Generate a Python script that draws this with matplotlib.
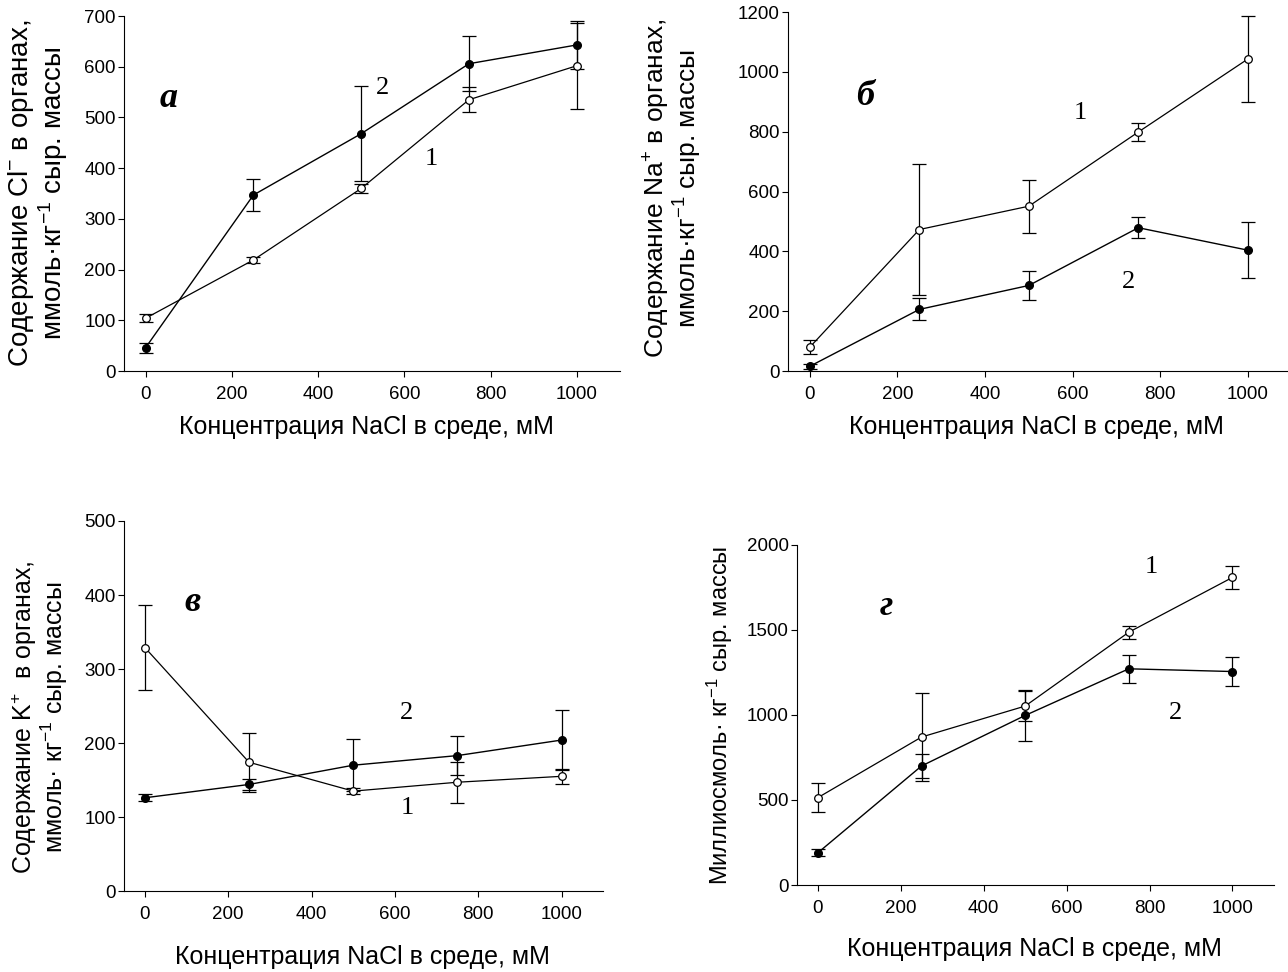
import matplotlib
matplotlib.use("Agg")
import matplotlib.pyplot as plt

plt.rcParams["font.family"] = ["Liberation Sans", "DejaVu Sans"]
plt.rcParams["mathtext.fontset"] = "custom"
plt.rcParams["mathtext.rm"] = "Liberation Sans"
plt.rcParams["mathtext.it"] = "Liberation Sans:italic"
plt.rcParams["mathtext.bf"] = "Liberation Sans:bold"

# NaCl concentration, mM
nacl = [0, 250, 500, 750, 1000]

# a: Cl-
cl_1 = [104, 219, 360, 535, 602]
cl_1_err = [8, 6, 8, 25, 85]
cl_2 = [46, 347, 468, 606, 643]
cl_2_err = [10, 32, 94, 54, 47]

# б: Na+
na_1 = [80, 473, 551, 799, 1043]
na_1_err = [23, 219, 88, 30, 143]
na_2 = [16, 206, 286, 479, 404]
na_2_err = [8, 37, 48, 35, 93]

# в: K+
k_1 = [329, 174, 135, 147, 155]
k_1_err = [58, 40, 4, 28, 10]
k_2 = [126, 144, 170, 183, 204]
k_2_err = [5, 8, 35, 26, 40]

# г: osmolality
osm_1 = [514, 870, 1052, 1486, 1808]
osm_1_err = [85, 258, 90, 38, 68]
osm_2 = [190, 700, 997, 1271, 1255]
osm_2_err = [20, 68, 150, 84, 83]

xlab = "Концентрация NaCl в среде, мМ"

panels = [
    dict(rect=[0.0963, 0.6183, 0.385, 0.3652],
         s1=(cl_1, cl_1_err), s2=(cl_2, cl_2_err), ylim=700, ystep=100,
         ylabel="Содержание Cl$^{-}$ в органах,\nммоль·кг$^{-1}$ сыр. массы",
         yfs=20, ylc=(-0.109, 0.5), xlc=(0.488, -0.124), letter="а", lp=(54, 538),
         p1=(663, 419), p2=(550, 558)),
    dict(rect=[0.6118, 0.6183, 0.391, 0.3693],
         s1=(na_1, na_1_err), s2=(na_2, na_2_err), ylim=1200, ystep=200,
         ylabel="Содержание Na$^{+}$ в органах,\nммоль·кг$^{-1}$ сыр. массы",
         yfs=19, ylc=(-0.166, 0.51), xlc=(0.494, -0.123), letter="б", lp=(126, 919),
         p1=(617, 863), p2=(727, 297)),
    dict(rect=[0.0963, 0.0833, 0.372, 0.3807],
         s1=(k_1, k_1_err), s2=(k_2, k_2_err), ylim=500, ystep=100,
         ylabel="Содержание K$^{+}$  в органах,\nммоль· кг$^{-1}$ сыр. массы",
         yfs=18, ylc=(-0.112, 0.47), xlc=(0.498, -0.147), letter="в", lp=(114, 390),
         p1=(629, 112), p2=(629, 241)),
    dict(rect=[0.619, 0.0895, 0.370, 0.35],
         s1=(osm_1, osm_1_err), s2=(osm_2, osm_2_err), ylim=2000, ystep=500,
         ylabel="Миллиосмоль· кг$^{-1}$ сыр. массы",
         yfs=17, ylc=(-0.13, 0.5), xlc=(0.497, -0.153), letter="г", lp=(165, 1636),
         p1=(805, 1867), p2=(863, 1011)),
]

fig = plt.figure(figsize=(12.88, 9.72), dpi=100)

for p in panels:
    ax = fig.add_axes(p["rect"])
    y2, e2 = p["s2"]
    y1, e1 = p["s1"]
    ax.errorbar(nacl, y2, yerr=e2, color="black", lw=1.0, elinewidth=0.9,
                capsize=5, capthick=0.9, marker="o", ms=5.5, mfc="black",
                mec="black", zorder=3)
    ax.errorbar(nacl, y1, yerr=e1, color="black", lw=0.9, elinewidth=0.9,
                capsize=5, capthick=0.9, marker="o", ms=5.5, mfc="white",
                mec="black", mew=0.9, zorder=4)
    ax.set_xlim(-50, 1100)
    ax.set_ylim(0, p["ylim"])
    ax.set_xticks(range(0, 1001, 200))
    ax.set_yticks(range(0, p["ylim"] + 1, p["ystep"]))
    ax.spines["top"].set_visible(False)
    ax.spines["right"].set_visible(False)
    ax.tick_params(direction="out", length=4, width=0.8, labelsize=13.5)
    ax.tick_params(axis="x", pad=7)
    ax.tick_params(axis="y", pad=2)
    ax.set_ylabel(p["ylabel"], fontsize=p["yfs"], linespacing=1.0)
    ax.yaxis.set_label_coords(*p["ylc"])
    ax.set_xlabel(xlab, fontsize=18)
    ax.xaxis.set_label_coords(*p["xlc"])
    ax.text(*p["lp"], p["letter"], fontsize=26, family="Liberation Serif",
            fontweight="bold", style="italic", ha="center", va="center")
    ax.text(*p["p1"], "1", fontsize=19, family="Liberation Serif",
            ha="center", va="center")
    ax.text(*p["p2"], "2", fontsize=19, family="Liberation Serif",
            ha="center", va="center")

fig.savefig("out.png", dpi=100)
